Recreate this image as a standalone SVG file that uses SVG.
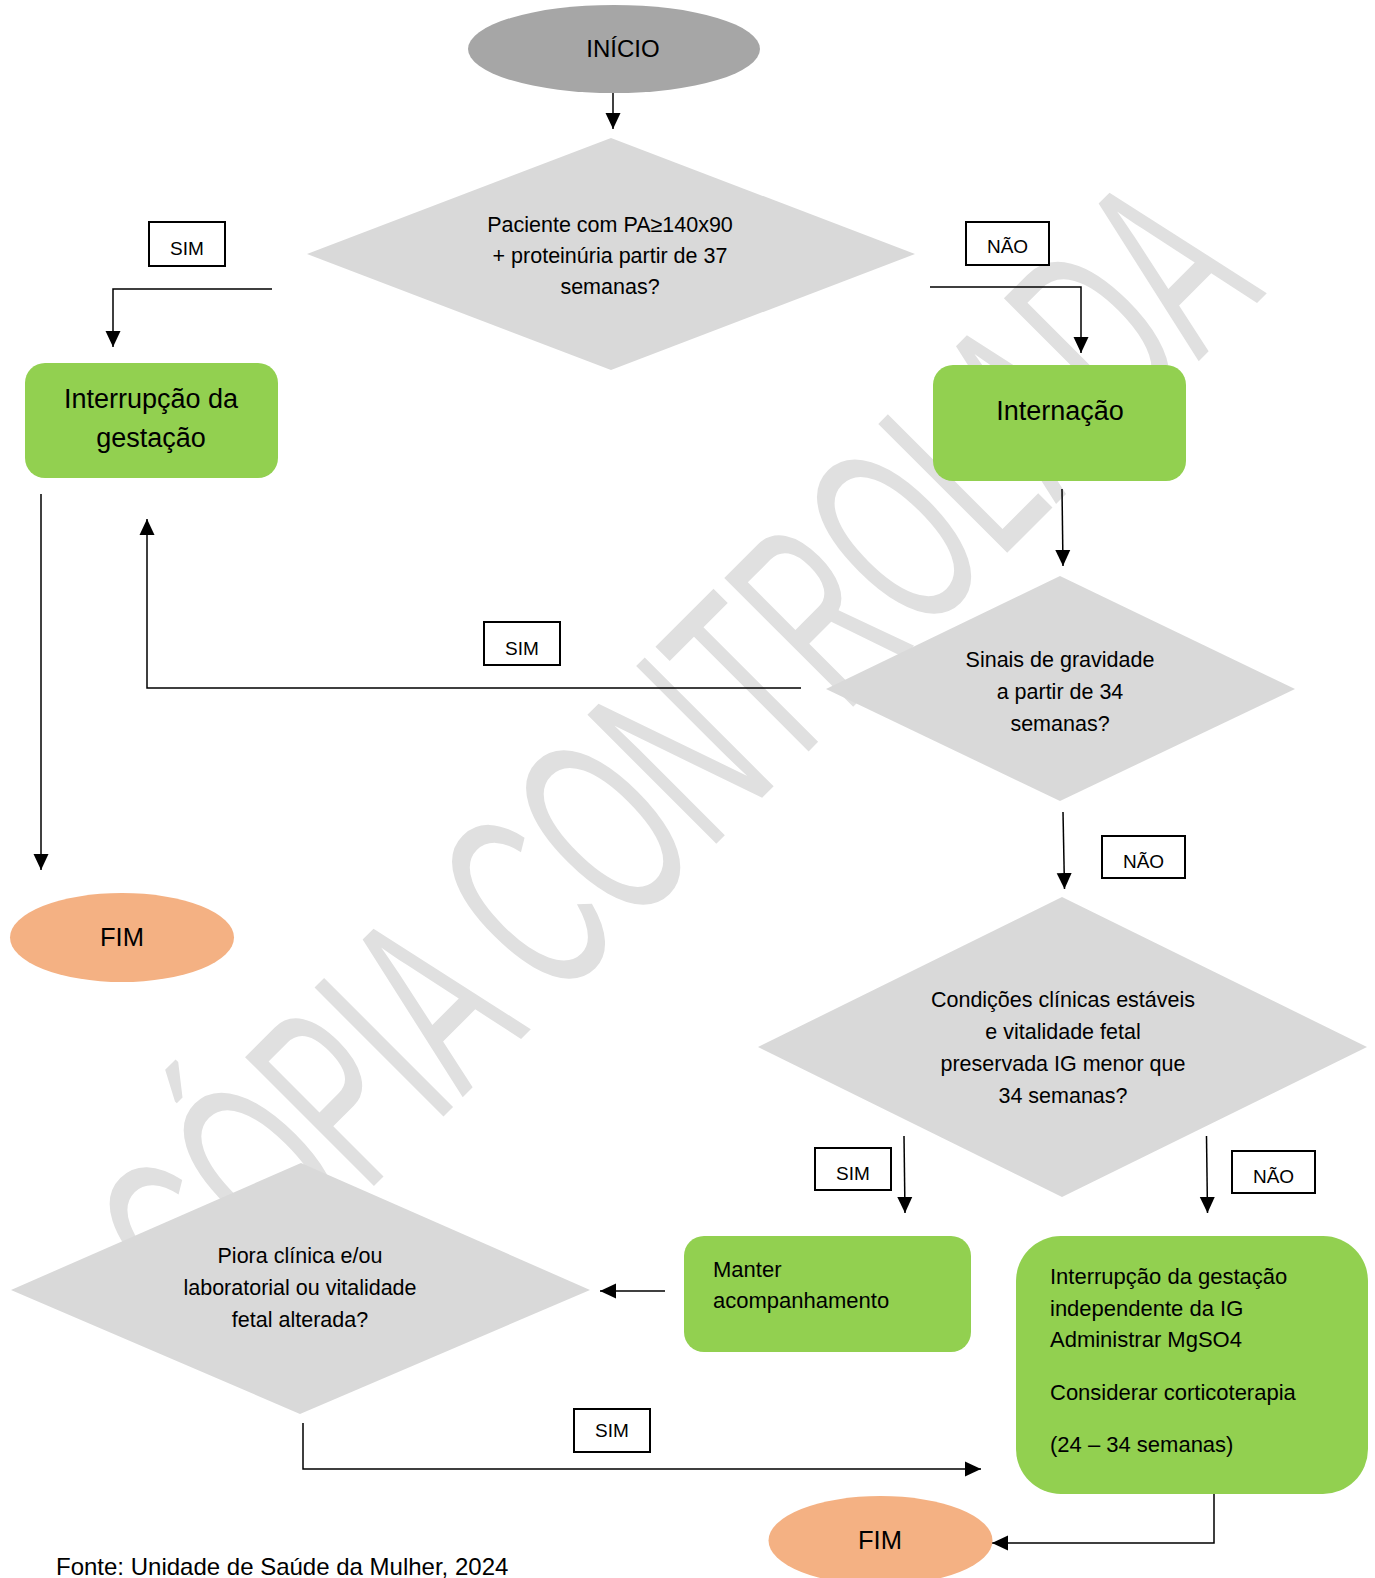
<svg xmlns="http://www.w3.org/2000/svg" width="1375" height="1578" viewBox="0 0 1375 1578">
<style>
text{font-family:"Liberation Sans",Arial,sans-serif;fill:#000}
.wm{font-size:265px;fill:#e0e0e0}
.dec{fill:#d9d9d9}
.box{fill:#92d050}
.lbl{fill:#fff;stroke:#000;stroke-width:2}
.lt{font-size:19px;text-anchor:middle}
.dt{font-size:21.5px;text-anchor:middle}
.bt{font-size:27px;text-anchor:middle}
.st{font-size:22px}
.ct{stroke:#000;stroke-width:1.5;fill:none;marker-end:url(#ah)}
</style>
<defs>
<marker id="ah" markerUnits="userSpaceOnUse" viewBox="0 0 16 16" refX="16" refY="8" markerWidth="16" markerHeight="16" orient="auto">
<path d="M0,0.5 L16,8 L0,15.5 z" fill="#000"/>
</marker>
</defs>
<rect width="1375" height="1578" fill="#fff"/>
<text class="wm" transform="translate(211.5,1348.5) rotate(-45) scale(0.548,1)">CÓPIA CONTROLADA</text>

<g id="connectors">
<path class="ct" d="M613,87 V129"/>
<path class="ct" d="M272,289 H113 V347"/>
<path class="ct" d="M930,287 H1081 V353"/>
<path class="ct" d="M1062,489 L1063,566"/>
<path class="ct" d="M801,688 H147 V519"/>
<path class="ct" d="M41,494 V870"/>
<path class="ct" d="M1063,812 L1064.5,889"/>
<path class="ct" d="M904,1136 L905,1213"/>
<path class="ct" d="M1206.5,1136 L1207.5,1213"/>
<path class="ct" d="M665,1291 H600"/>
<path class="ct" d="M303,1423 V1469 H981"/>
<path class="ct" d="M1214,1466 V1543 H992"/>
</g>

<g id="inicio">
<ellipse cx="614" cy="49" rx="146" ry="44" fill="#a6a6a6"/>
<text x="623" y="57" font-size="24" text-anchor="middle">INÍCIO</text>
</g>

<g id="d1">
<polygon class="dec" points="611,138 915,254 611,370 307,254"/>
<text class="dt" x="610" y="232">Paciente com PA≥140x90</text>
<text class="dt" x="610" y="263">+ proteinúria partir de 37</text>
<text class="dt" x="610" y="294">semanas?</text>
</g>

<g id="lbl-sim1">
<rect class="lbl" x="149" y="222" width="76" height="44"/>
<text class="lt" x="187" y="255">SIM</text>
</g>
<g id="lbl-nao1">
<rect class="lbl" x="966" y="222" width="83" height="43"/>
<text class="lt" x="1007.5" y="253">NÃO</text>
</g>

<g id="interrupcao1">
<rect class="box" x="25" y="363" width="253" height="115" rx="20"/>
<text class="bt" x="151" y="408">Interrupção da</text>
<text class="bt" x="151" y="447">gestação</text>
</g>

<g id="internacao">
<rect class="box" x="933" y="365" width="253" height="116" rx="20"/>
<text class="bt" x="1060" y="420">Internação</text>
</g>

<g id="d2">
<polygon class="dec" points="1060,576 1295,689 1060,801 826,689"/>
<text class="dt" x="1060" y="667">Sinais de gravidade</text>
<text class="dt" x="1060" y="699">a partir de 34</text>
<text class="dt" x="1060" y="731">semanas?</text>
</g>

<g id="lbl-sim2">
<rect class="lbl" x="484" y="622" width="76" height="43"/>
<text class="lt" x="522" y="655">SIM</text>
</g>

<g id="fim1">
<ellipse cx="122" cy="937.5" rx="112" ry="44.5" fill="#f4b183"/>
<text x="122" y="946" font-size="25.5" text-anchor="middle">FIM</text>
</g>

<g id="lbl-nao2">
<rect class="lbl" x="1102" y="836" width="83" height="42"/>
<text class="lt" x="1143.5" y="868">NÃO</text>
</g>

<g id="d3">
<polygon class="dec" points="1062,897 1367,1047 1062,1197 758,1047"/>
<text class="dt" x="1063" y="1007">Condições clínicas estáveis</text>
<text class="dt" x="1063" y="1039">e vitalidade fetal</text>
<text class="dt" x="1063" y="1071">preservada IG menor que</text>
<text class="dt" x="1063" y="1103">34 semanas?</text>
</g>

<g id="lbl-sim3">
<rect class="lbl" x="815" y="1148" width="76" height="42"/>
<text class="lt" x="853" y="1180">SIM</text>
</g>
<g id="lbl-nao3">
<rect class="lbl" x="1232" y="1151" width="83" height="42"/>
<text class="lt" x="1273.5" y="1183">NÃO</text>
</g>

<g id="manter">
<rect class="box" x="684" y="1236" width="287" height="116" rx="20"/>
<text class="st" x="713" y="1277">Manter</text>
<text class="st" x="713" y="1308">acompanhamento</text>
</g>

<g id="interrupcao2">
<rect class="box" x="1016" y="1236" width="352" height="258" rx="45"/>
<text class="st" x="1050" y="1284">Interrupção da gestação</text>
<text class="st" x="1050" y="1316">independente da IG</text>
<text class="st" x="1050" y="1347">Administrar MgSO4</text>
<text class="st" x="1050" y="1400">Considerar corticoterapia</text>
<text class="st" x="1050" y="1452">(24 – 34 semanas)</text>
</g>

<g id="d4">
<polygon class="dec" points="301,1163 590,1290 300,1414 11,1290"/>
<text class="dt" x="300" y="1263">Piora clínica e/ou</text>
<text class="dt" x="300" y="1295">laboratorial ou vitalidade</text>
<text class="dt" x="300" y="1327">fetal alterada?</text>
</g>

<g id="lbl-sim4">
<rect class="lbl" x="574" y="1409" width="76" height="43"/>
<text class="lt" x="612" y="1437">SIM</text>
</g>

<g id="fim2">
<ellipse cx="880.5" cy="1540.5" rx="112" ry="44.5" fill="#f4b183"/>
<text x="880" y="1549" font-size="25.5" text-anchor="middle">FIM</text>
</g>

<text x="56" y="1575" font-size="24">Fonte: Unidade de Saúde da Mulher, 2024</text>
</svg>
